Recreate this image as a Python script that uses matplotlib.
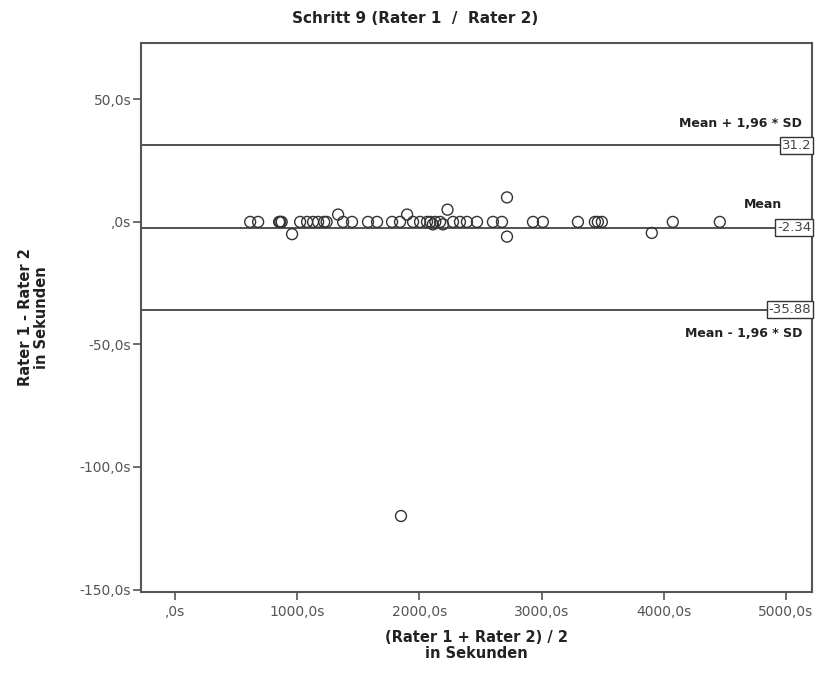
import matplotlib
matplotlib.use('Agg')
import matplotlib.pyplot as plt
import matplotlib.transforms as mtransforms

# ─── data ───────────────────────────────────────────────────────
mean_x = [614, 679, 851, 860, 872, 957, 1023, 1080, 1129, 1170,
          1220, 1240, 1334, 1375, 1448, 1579, 1653, 1776, 1841, 1849,
          1899, 1948, 2005, 2062, 2090, 2110, 2130, 2169, 2193, 2230,
          2275, 2332, 2389, 2471, 2602, 2676, 2717, 2717, 2930, 3011,
          3298, 3437, 3461, 3494, 3903, 4075, 4460]
diff_y = [0, 0, 0, 0, 0, -5, 0, 0, 0, 0,
          0, 0, 3, 0, 0, 0, 0, 0, 0, -120,
          3, 0, 0, 0, 0, -1, 0, 0, -1, 5,
          0, 0, 0, 0, 0, 0, 10, -6, 0, 0,
          0, 0, 0, 0, -4.5, 0, 0]

mean_diff = -2.34
upper_loa = 31.2
lower_loa = -35.88

x_ticks = [0, 1000, 2000, 3000, 4000, 5000]
x_labels = [',0s', '1000,0s', '2000,0s', '3000,0s', '4000,0s', '5000,0s']
y_ticks = [50, 0, -50, -100, -150]
y_labels = ['50,0s', ',0s', '-50,0s', '-100,0s', '-150,0s']

line_col = '#333333'
axis_col = '#555555'

fig = plt.figure(figsize=(8.17, 6.75), dpi=100)
ax = fig.add_axes([0.1726, 0.1230, 0.8213, 0.8133])

ax.scatter(mean_x, diff_y, s=62, facecolors='none', edgecolors='#333333',
           linewidths=1.0, zorder=3)

for yv in (upper_loa, mean_diff, lower_loa):
    ax.axhline(yv, color=line_col, linewidth=1.2, zorder=2)

ax.set_xlim(-280, 5215)
ax.set_ylim(-151, 73)

ax.set_xticks(x_ticks)
ax.set_xticklabels(x_labels)
ax.set_yticks(y_ticks)
ax.set_yticklabels(y_labels)
ax.tick_params(direction='out', length=6, width=1.2, color=axis_col,
               labelcolor='#555555', labelsize=10)
ax.tick_params(axis='y', pad=1)
for s in ax.spines.values():
    s.set_color(axis_col)
    s.set_linewidth(1.5)

# value boxes at the right edge
trans = mtransforms.blended_transform_factory(ax.transAxes, ax.transData)
for yv, lab in ((upper_loa, '31.2'), (mean_diff, '-2.34'), (lower_loa, '-35.88')):
    ax.text(0.999, yv, lab, transform=trans, ha='right', va='center',
            fontsize=9.5, color='#444444', zorder=4,
            bbox=dict(boxstyle='square,pad=0.15', facecolor='white',
                      edgecolor='#333333', linewidth=1.0))

# line captions
ax.text(0.985, upper_loa + 9, 'Mean + 1,96 * SD', transform=trans,
        ha='right', va='center', fontsize=9, fontweight='bold', color='#222222')
ax.text(0.955, mean_diff + 9.5, 'Mean', transform=trans,
        ha='right', va='center', fontsize=9, fontweight='bold', color='#222222')
ax.text(0.985, lower_loa - 9.5, 'Mean - 1,96 * SD', transform=trans,
        ha='right', va='center', fontsize=9, fontweight='bold', color='#222222')

fig.text(0.508, 0.972, 'Schritt 9 (Rater 1  /  Rater 2)', ha='center', va='center',
         fontsize=11, fontweight='bold', color='#222222')
ax.set_xlabel('(Rater 1 + Rater 2) / 2\nin Sekunden', fontsize=10.5,
              fontweight='bold', color='#222222', labelpad=8, linespacing=1.1)
ax.set_ylabel('Rater 1 - Rater 2\nin Sekunden', fontsize=10.5,
              fontweight='bold', color='#222222', labelpad=22, linespacing=1.1)

fig.savefig('out.png', dpi=100)
